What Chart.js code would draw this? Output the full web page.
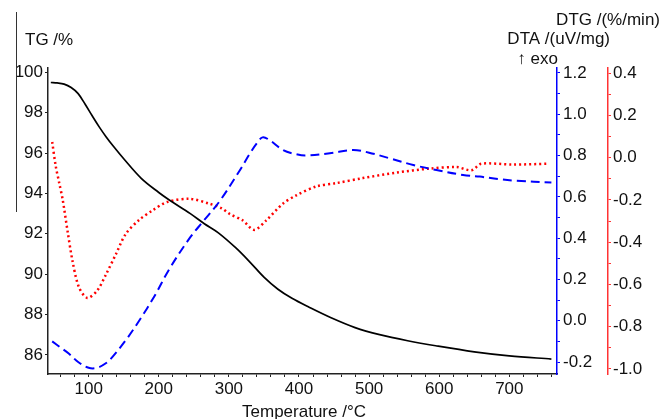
<!DOCTYPE html>
<html>
<head>
<meta charset="utf-8">
<script src="https://cdn.jsdelivr.net/npm/chart.js@4/dist/chart.umd.min.js"></script>
<style>
  html, body { margin: 0; padding: 0; background: #fff; }
  #wrap { width: 662px; height: 419px; }
</style>
</head>
<body>
<div id="wrap"><canvas id="taChart" width="662" height="419"></canvas></div>
<script>
// TG curve (mass %) vs temperature
const tgTemp = [46, 55, 65, 75, 85, 95, 105, 115, 125, 135, 150, 175, 200, 215, 245, 265, 285, 310, 330, 350, 370, 390, 415, 445, 480, 515, 555, 595, 650, 700, 760];
const tgMass = [99.5, 99.48, 99.42, 99.25, 98.95, 98.42, 97.85, 97.3, 96.8, 96.35, 95.72, 94.75, 94.05, 93.68, 93.0, 92.5, 92.05, 91.3, 90.6, 89.85, 89.25, 88.8, 88.35, 87.85, 87.35, 87.0, 86.7, 86.45, 86.15, 85.95, 85.79];

// DTA curve (uV/mg)
const dtaTemp = [48, 60, 72, 85, 100, 112, 125, 134, 153, 172, 194, 215, 244, 263, 286, 315, 330, 340, 348, 358, 377, 395, 410, 444, 477, 500, 529, 563, 596, 634, 658, 684, 710, 760];
const dtaValue = [-0.10, -0.13, -0.16, -0.20, -0.228, -0.228, -0.205, -0.175, -0.094, 0.0, 0.12, 0.25, 0.40, 0.48, 0.575, 0.725, 0.81, 0.86, 0.888, 0.875, 0.827, 0.807, 0.80, 0.811, 0.827, 0.814, 0.787, 0.754, 0.730, 0.706, 0.698, 0.686, 0.678, 0.669];

// DTG curve (%/min)
const dtgTemp = [48, 53, 58, 63, 70, 77, 86, 98, 112, 125, 139, 153, 172, 191, 212, 244, 272, 290, 301, 320, 336, 353, 377, 396, 425, 453, 491, 539, 586, 625, 646, 660, 705, 755];
const dtgValue = [0.074, -0.04, -0.12, -0.2, -0.35, -0.49, -0.612, -0.664, -0.63, -0.551, -0.456, -0.361, -0.295, -0.25, -0.21, -0.195, -0.218, -0.24, -0.266, -0.298, -0.342, -0.298, -0.218, -0.179, -0.136, -0.121, -0.097, -0.071, -0.052, -0.045, -0.06, -0.029, -0.033, -0.029];

// axis ranges
const tempRange = [42, 768];
const tgRange = [85.05, 100.22];
const dtaRange = [-0.258, 1.224];
const dtgRange = [-1.024, 0.424];

const FONT = "'Liberation Sans', 'DejaVu Sans', Arial, sans-serif";

function pts(xs, ys) {
    return xs.map((x, i) => ({ x: x, y: ys[i] }));
}

// extra text around the plot (axis titles placed like the original)
const labelsPlugin = {
    id: 'labels',
    afterDraw(chart) {
        const ctx = chart.ctx;
        ctx.save();
        ctx.fillStyle = '#111';
        ctx.textBaseline = 'alphabetic';
        ctx.font = '17px ' + FONT;
        ctx.textAlign = 'left';
        ctx.fillText('TG /%', 25, 45);
        ctx.textAlign = 'right';
        ctx.fillText('DTG /(%/min)', 660, 25);
        ctx.fillText('DTA /(uV/mg)', 610, 44);
        ctx.fillText('\u2191 exo', 558, 64);
        ctx.textAlign = 'center';
        ctx.fillText('Temperature /\u00B0C', 304, 417);
        // stray frame line on the left of the original figure
        ctx.strokeStyle = '#333';
        ctx.lineWidth = 1;
        ctx.beginPath();
        ctx.moveTo(16.5, 12);
        ctx.lineTo(16.5, 212);
        ctx.stroke();
        ctx.restore();
    }
};

const tickFont = { family: FONT, size: 17 };

const ctx1 = document.getElementById('taChart').getContext('2d');
new Chart(ctx1, {
    type: 'line',
    data: {
        datasets: [
            {
                label: 'TG',
                data: pts(tgTemp, tgMass),
                yAxisID: 'y',
                borderColor: '#000',
                borderWidth: 1.7,
                pointRadius: 0,
                tension: 0.35
            },
            {
                label: 'DTA',
                data: pts(dtaTemp, dtaValue),
                yAxisID: 'y1',
                borderColor: '#0000ff',
                borderWidth: 2,
                borderDash: [9, 5],
                pointRadius: 0,
                tension: 0.35
            },
            {
                label: 'DTG',
                data: pts(dtgTemp, dtgValue),
                yAxisID: 'y2',
                borderColor: '#ff0000',
                borderWidth: 2.5,
                borderDash: [2, 3],
                pointRadius: 0,
                tension: 0.3
            }
        ]
    },
    options: {
        responsive: false,
        animation: false,
        layout: { padding: { left: 0, top: 68, right: 0, bottom: 0 } },
        plugins: {
            legend: { display: false },
            tooltip: { enabled: false }
        },
        scales: {
            x: {
                type: 'linear',
                min: tempRange[0],
                max: tempRange[1],
                afterFit: s => { s.height = 45; },
                border: { color: '#222', width: 1.5 },
                grid: { drawOnChartArea: false, color: '#222', tickLength: 3 },
                ticks: {
                    stepSize: 20,
                    autoSkip: false,
                    maxRotation: 0,
                    includeBounds: false,
                    padding: 2,
                    color: '#111',
                    font: tickFont,
                    callback: v => (Math.round(v) % 100 === 0 ? String(Math.round(v)) : '')
                }
            },
            y: {
                position: 'left',
                min: tgRange[0],
                max: tgRange[1],
                afterFit: s => { s.width = 48; },
                border: { color: '#222', width: 1.5 },
                grid: { drawOnChartArea: false, color: '#222', tickLength: 3 },
                ticks: {
                    stepSize: 2,
                    autoSkip: false,
                    includeBounds: false,
                    padding: 2,
                    color: '#111',
                    font: tickFont,
                    callback: v => String(Math.round(v))
                }
            },
            y1: {
                position: 'right',
                min: dtaRange[0],
                max: dtaRange[1],
                afterFit: s => { s.width = 51; },
                border: { color: '#0000ff', width: 1.5 },
                grid: { drawOnChartArea: false, color: '#0000ff', tickLength: 3 },
                ticks: {
                    stepSize: 0.1,
                    autoSkip: false,
                    includeBounds: false,
                    padding: 3,
                    color: '#111',
                    font: tickFont,
                    callback: v => (Math.round(v * 10) % 2 === 0 ? v.toFixed(1) : '')
                }
            },
            y2: {
                position: 'right',
                min: dtgRange[0],
                max: dtgRange[1],
                afterFit: s => { s.width = 54; },
                border: { color: '#ff3333', width: 1.5 },
                grid: { drawOnChartArea: false, color: '#ff3333', tickLength: 3 },
                ticks: {
                    stepSize: 0.1,
                    autoSkip: false,
                    includeBounds: false,
                    padding: 2,
                    color: '#111',
                    font: tickFont,
                    callback: v => (Math.round(v * 10) % 2 === 0 ? v.toFixed(1) : '')
                }
            }
        }
    },
    plugins: [labelsPlugin]
});
</script>
</body>
</html>
